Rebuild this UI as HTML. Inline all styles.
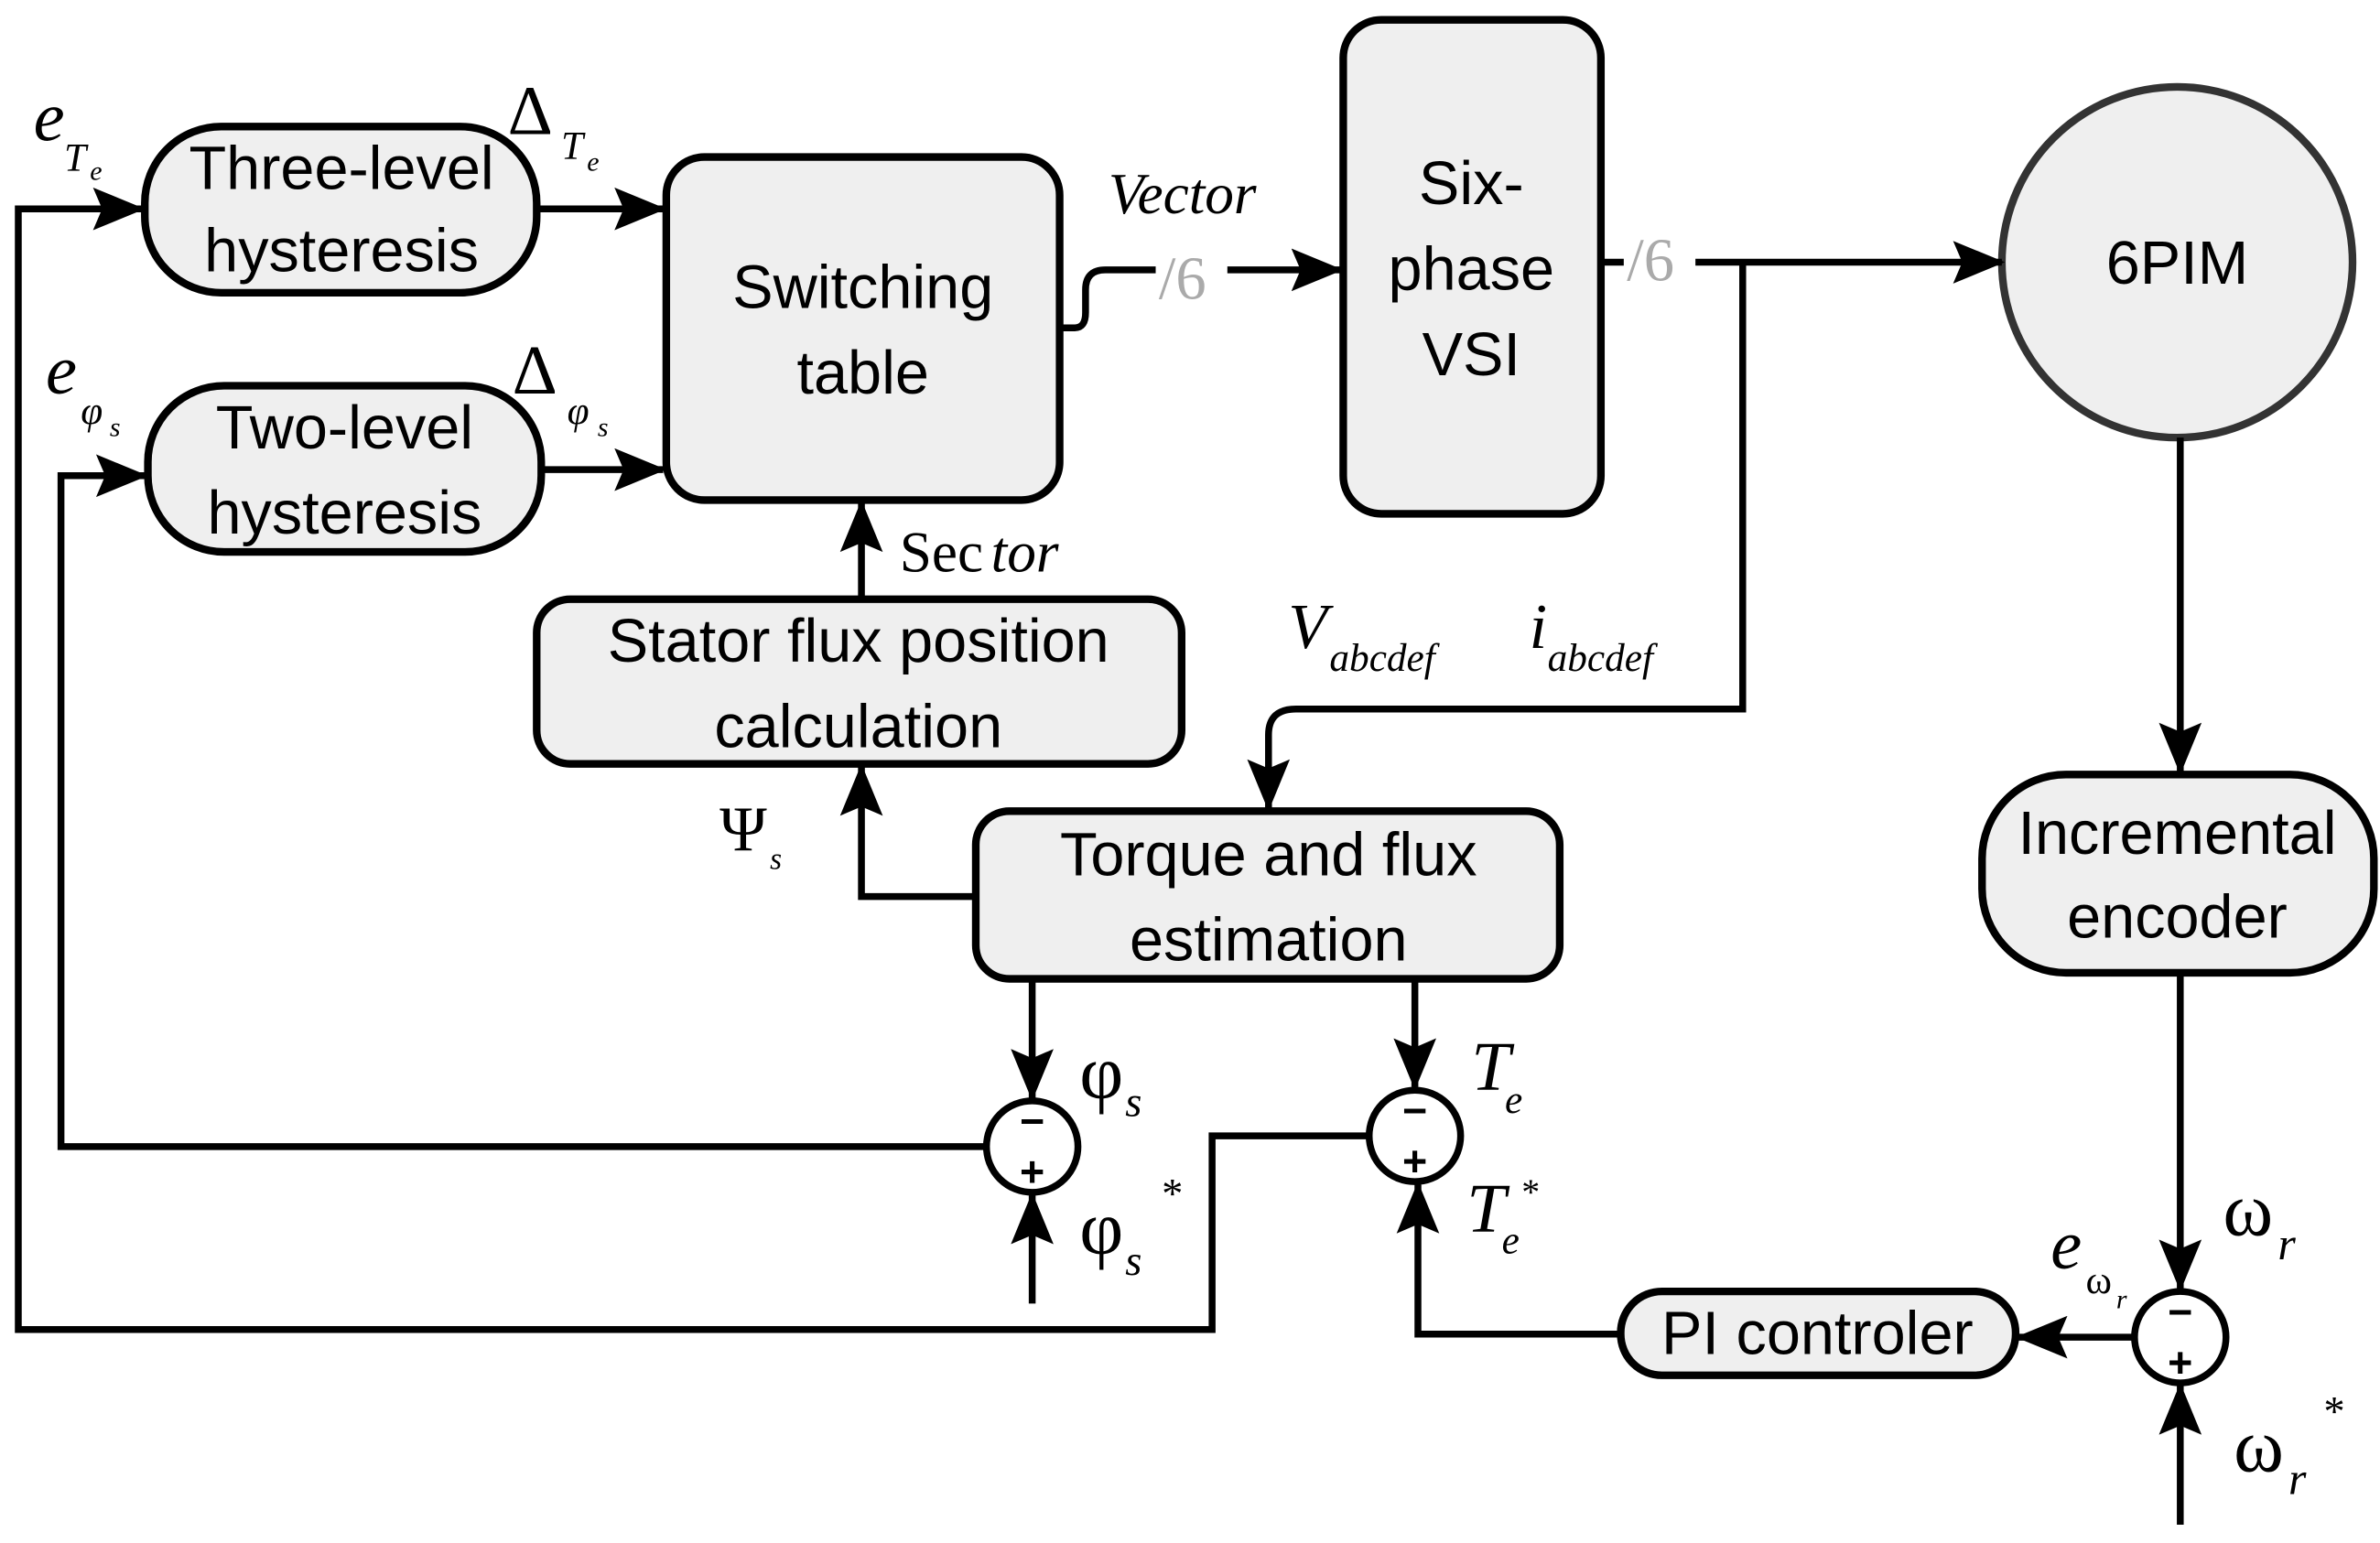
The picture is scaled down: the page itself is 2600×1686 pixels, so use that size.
<!DOCTYPE html>
<html><head><meta charset="utf-8"><style>
html,body{margin:0;padding:0;background:#fff;}
svg{display:block;}
.b{fill:#efefef;stroke:#000;stroke-width:5;}
.l{fill:none;stroke:#000;stroke-width:4.5;}
.t{font-family:"Liberation Sans",sans-serif;font-size:40px;fill:#000;text-anchor:middle;}
.m{font-family:"Liberation Serif",serif;font-style:italic;fill:#000;}
.n{font-family:"Liberation Serif",serif;font-style:normal;fill:#000;}
.g{font-family:"Liberation Serif",serif;font-size:40px;fill:#aaa;}
</style></head><body>
<svg width="2600" height="1686" viewBox="0 0 1561 1012" preserveAspectRatio="none" xmlns="http://www.w3.org/2000/svg">
<defs>
<marker id="a" markerUnits="userSpaceOnUse" markerWidth="34" markerHeight="28" refX="32" refY="14" orient="auto">
<path d="M0,0 L34,14 L0,28 L6,14 Z" fill="#000"/></marker>
</defs>
<rect class="b" x="95" y="83" width="257" height="109" rx="50"/>
<text class="t" x="224" y="124">Three-level</text><text class="t" x="224" y="178">hysteresis</text>
<rect class="b" x="97" y="253" width="258" height="109" rx="50"/>
<text class="t" x="226" y="294">Two-level</text><text class="t" x="226" y="350">hysteresis</text>
<rect class="b" x="437" y="103" width="258" height="225" rx="25"/>
<text class="t" x="566" y="202">Switching</text><text class="t" x="566" y="258">table</text>
<rect class="b" x="881" y="13" width="169" height="324" rx="25"/>
<text class="t" x="965" y="134">Six-</text><text class="t" x="965" y="190">phase</text><text class="t" x="965" y="246">VSI</text>
<circle cx="1428" cy="172" r="115" fill="#efefef" stroke="#333" stroke-width="5"/>
<text class="t" x="1428" y="186">6PIM</text>
<rect class="b" x="1300" y="508" width="257" height="130" rx="55"/>
<text class="t" x="1428" y="560">Incremental</text><text class="t" x="1428" y="615">encoder</text>
<rect class="b" x="352" y="393" width="423" height="108" rx="22"/>
<text class="t" x="563" y="434">Stator flux position</text><text class="t" x="563" y="490">calculation</text>
<rect class="b" x="640" y="532" width="383" height="110" rx="22"/>
<text class="t" x="832" y="574">Torque and flux</text><text class="t" x="832" y="630">estimation</text>
<rect class="b" x="1063" y="847" width="259" height="55" rx="27"/>
<text class="t" x="1192" y="888">PI controler</text>
<g fill="#fff" stroke="#000" stroke-width="4.5">
<circle cx="677" cy="752" r="30"/><circle cx="928" cy="745" r="30"/><circle cx="1430" cy="877" r="30"/></g>
<g font-family="Liberation Sans,sans-serif" font-size="28" font-weight="bold" text-anchor="middle">
<text x="677" y="745">−</text><text x="677" y="778">+</text>
<text x="928" y="738">−</text><text x="928" y="771">+</text>
<text x="1430" y="870">−</text><text x="1430" y="903">+</text></g>
<path class="l" d="M898,745 H795 V872 H12 V137 H93" marker-end="url(#a)"/>
<path class="l" d="M647,752 H40 V312 H95" marker-end="url(#a)"/>
<path class="l" d="M352,137 H435" marker-end="url(#a)"/>
<path class="l" d="M355,308 H435" marker-end="url(#a)"/>
<path class="l" d="M695,215 H705 Q712,215 712,205 V190 Q712,177 725,177 H758"/>
<path class="l" d="M805,177 H879" marker-end="url(#a)"/>
<path class="l" d="M1050,172 H1065"/>
<path class="l" d="M1112,172 H1313" marker-end="url(#a)"/>
<path class="l" d="M1143,172 V465 H850 Q832,465 832,482 V530" marker-end="url(#a)"/>
<path class="l" d="M1430,287 V506" marker-end="url(#a)"/>
<path class="l" d="M1430,638 V845" marker-end="url(#a)"/>
<path class="l" d="M1430,1000 V909" marker-end="url(#a)"/>
<path class="l" d="M1400,877 H1324" marker-end="url(#a)"/>
<path class="l" d="M1063,875 H930 V777" marker-end="url(#a)"/>
<path class="l" d="M677,642 V720" marker-end="url(#a)"/>
<path class="l" d="M928,642 V713" marker-end="url(#a)"/>
<path class="l" d="M677,855 V784" marker-end="url(#a)"/>
<path class="l" d="M640,588 H565 V503" marker-end="url(#a)"/>
<path class="l" d="M565,393 V330" marker-end="url(#a)"/>
<text class="g" x="760" y="196">/6</text>
<text class="g" x="1067" y="184">/6</text>
<text class="m" x="22" y="92" font-size="46">e</text><text class="m" x="42" y="112" font-size="26">T</text><text class="m" x="59" y="118" font-size="18">e</text>
<text class="n" x="333" y="88" font-size="46">Δ</text><text class="m" x="368" y="104" font-size="26">T</text><text class="m" x="385" y="112" font-size="18">e</text>
<text class="m" x="30" y="258" font-size="46">e</text><text class="m" x="53" y="278" font-size="26">φ</text><text class="m" x="72" y="286" font-size="18">s</text>
<text class="n" x="336" y="258" font-size="46">Δ</text><text class="m" x="372" y="278" font-size="26">φ</text><text class="m" x="392" y="286" font-size="18">s</text>
<text class="m" x="727" y="140" font-size="38">Vector</text>
<text class="n" x="590" y="375" font-size="38">Sec</text><text class="m" x="650" y="375" font-size="38">tor</text>
<text class="m" x="845" y="425" font-size="42">V</text><text class="m" x="872" y="440" font-size="26">abcdef</text>
<text class="m" x="1003" y="425" font-size="42">i</text><text class="m" x="1015" y="440" font-size="26">abcdef</text>
<text class="n" x="472" y="558" font-size="42">Ψ</text><text class="m" x="505" y="570" font-size="20">s</text>
<text class="n" x="708" y="720" font-size="50">φ</text><text class="m" x="738" y="732" font-size="28">s</text>
<text class="n" x="708" y="822" font-size="50">φ</text><text class="m" x="738" y="836" font-size="28">s</text><text class="n" x="762" y="792" font-size="28">*</text>
<text class="m" x="965" y="715" font-size="46">T</text><text class="m" x="987" y="730" font-size="26">e</text>
<text class="m" x="962" y="808" font-size="46">T</text><text class="m" x="985" y="822" font-size="26">e</text><text class="n" x="998" y="790" font-size="24">*</text>
<text class="m" x="1345" y="832" font-size="46">e</text><text class="n" x="1368" y="848" font-size="26">ω</text><text class="m" x="1388" y="858" font-size="18">r</text>
<text class="n" x="1458" y="810" font-size="50">ω</text><text class="m" x="1494" y="826" font-size="30">r</text>
<text class="n" x="1465" y="965" font-size="50">ω</text><text class="m" x="1501" y="980" font-size="30">r</text><text class="n" x="1524" y="935" font-size="28">*</text>
</svg>
</body></html>
